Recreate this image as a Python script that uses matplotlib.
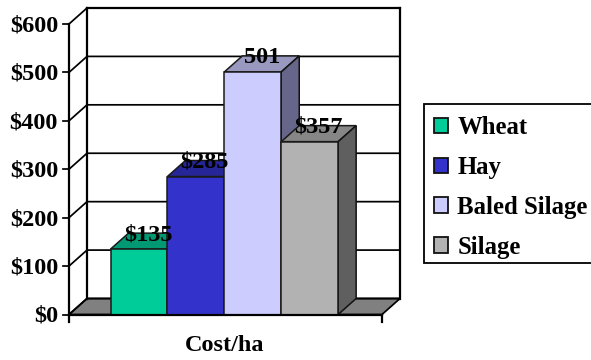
import matplotlib
matplotlib.use('Agg')
import matplotlib.pyplot as plt
from matplotlib.patches import Patch, Polygon, Rectangle

crops = ['Wheat', 'Hay', 'Baled Silage', 'Silage']
costs = [135, 285, 501, 357]
cost_labels = ['$135', '$285', '501', '$357']
front_colors = ['#00CC99', '#3333CC', '#CCCCFF', '#B2B2B2']
top_colors = ['#009973', '#262699', '#9999BF', '#868686']
side_colors = ['#006B50', '#1C1C70', '#66668A', '#5F5F5F']
y_ticks = [0, 100, 200, 300, 400, 500, 600]
y_labels = ['$0', '$100', '$200', '$300', '$400', '$500', '$600']

W, H = 591, 360
font = 'Liberation Serif'
fs = 17.5

fig = plt.figure(figsize=(W / 100, H / 100), dpi=100)
# front plane of the 3D box: x 69-382 px, y 24-314.5 px
ax = fig.add_axes([69 / W, 1 - 314.5 / H, 313 / W, 290.5 / H])
ax.set_xlim(0, 5.5)
ax.set_ylim(0, 600)
ax.axis('off')

# depth offset of the box in data units
dx = 18 / 56.9
dy = 16 / (290.5 / 600)
xmax = 5.5
lw = 1.25
lw_wall = 1.6

# floor
ax.add_patch(Polygon([(0, 0), (dx, dy), (xmax + dx, dy), (xmax, 0)], fc='#808080',
                     ec='k', lw=lw, clip_on=False, zorder=1))

# grid on back and side walls
for v in y_ticks:
    ax.plot([0, dx, xmax + dx], [v, v + dy, v + dy], color='k', lw=lw, clip_on=False, zorder=2,
            solid_joinstyle='miter')
ax.plot([dx, dx], [dy, 600 + dy], color='k', lw=lw_wall, clip_on=False, zorder=2)
ax.plot([dx, xmax + dx], [600 + dy, 600 + dy], color='k', lw=lw_wall, clip_on=False, zorder=2)
ax.plot([xmax + dx, xmax + dx], [dy, 600 + dy], color='k', lw=lw_wall, clip_on=False, zorder=2)
ax.plot([0, 0], [-16, 600], color='k', lw=lw_wall, clip_on=False, zorder=2)
ax.plot([0, xmax], [0, 0], color='k', lw=lw_wall, clip_on=False, zorder=8)
ax.plot([xmax, xmax], [-16, 0], color='k', lw=lw_wall, clip_on=False, zorder=8)

# tick marks and labels
for v, s in zip(y_ticks, y_labels):
    ax.plot([-6 / 56.9, 0], [v, v], color='k', lw=lw, clip_on=False, zorder=2)
    ax.text(-11 / 56.9, v - 4, s, ha='right', va='center', family=font, weight='bold', fontsize=fs)

# bars, left to right so each one covers the depth of the previous one
start = 41.5 / 56.9
for i, (v, c1, c2, c3) in enumerate(zip(costs, front_colors, top_colors, side_colors)):
    x0 = start + i
    x1 = x0 + 1
    z = 3 + i
    ax.bar(x0, v, width=1, align='edge', color=c1, edgecolor='#1a1a1a', linewidth=1.1, zorder=z + 0.2,
           clip_on=False)
    ax.add_patch(Polygon([(x0, v), (x0 + dx, v + dy), (x1 + dx, v + dy), (x1, v)], fc=c2,
                         ec='#1a1a1a', lw=1.1, clip_on=False, zorder=z))
    ax.add_patch(Polygon([(x1, 0), (x1 + dx, dy), (x1 + dx, v + dy), (x1, v)], fc=c3,
                         ec='#111111', lw=1.1, clip_on=False, zorder=z))

# value labels
for i, (v, s) in enumerate(zip(costs, cost_labels)):
    ax.text(start + i + 0.5 + dx / 2, v + dy - 3, s, ha='center', va='center', family=font,
            weight='bold', fontsize=fs, zorder=9)

ax.text(xmax / 2 - 0.01, -64, 'Cost/ha', ha='center', va='center', family=font,
        weight='bold', fontsize=fs)

# legend box runs off the right edge of the figure
fig.add_artist(Rectangle((423.5 / W, 1 - 263 / H), 180 / W, 159.5 / H, transform=fig.transFigure,
                         fc='white', ec='k', lw=1.3))
handles = [Patch(fc=c, ec='#111111', lw=1.3) for c in front_colors]
leg = fig.legend(handles, crops, loc='lower left', bbox_to_anchor=(423.5 / W, 1 - 269 / H),
                 borderaxespad=0, frameon=False,
                 prop={'family': font, 'weight': 'bold', 'size': 17.8}, handlelength=0.59,
                 handleheight=0.59, handletextpad=0.36, labelspacing=0.68, borderpad=0.42)

fig.savefig('out.png', dpi=100)
